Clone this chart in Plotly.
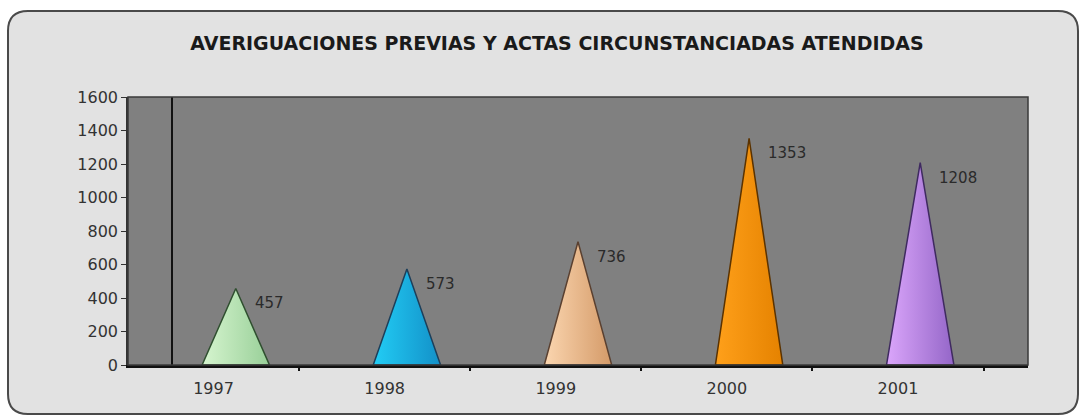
import plotly.graph_objects as go

years = ["1997", "1998", "1999", "2000", "2001"]
values = [457, 573, 736, 1353, 1208]
fill_left = ["#d6f5cf", "#22cdf5", "#fbd6b0", "#ffa01a", "#dba6fb"]
fill_right = ["#98cf98", "#1390c8", "#d49a68", "#e58200", "#9466c8"]
edge_colors = ["#2f4f2f", "#1d3f5a", "#5a4030", "#5a3200", "#3f2a60"]
title_text = "AVERIGUACIONES PREVIAS Y ACTAS CIRCUNSTANCIADAS ATENDIDAS"

W, H = 1083, 419
L, R, T, B = 128, 1028, 97, 365
off, hw = 0.13, 0.197

FAM = "DejaVu Sans, Verdana, Arial"

fig = go.Figure()
for i, (yr, v) in enumerate(zip(years, values)):
    c = i + off
    fig.add_trace(go.Scatter(
        x=[c - hw, c, c + hw, c - hw], y=[0, v, 0, 0],
        mode="lines", fill="toself",
        fillgradient=dict(type="horizontal",
                          colorscale=[[0, fill_left[i]], [1, fill_right[i]]]),
        line=dict(color=edge_colors[i], width=1.5),
        hoverinfo="skip", showlegend=False))
    fig.add_annotation(x=c, y=v, xref="x", yref="y", text=str(v),
                       showarrow=False, xanchor="left", yanchor="middle",
                       xshift=17, yshift=-15,
                       font=dict(family=FAM, size=15, color="#2a2a2a"))

# overlay axis carrying divider tick marks
fig.add_trace(go.Scatter(x=[0], y=[0], xaxis="x2", mode="markers",
                         marker=dict(opacity=0), hoverinfo="skip", showlegend=False))

def px2paper_x(px):
    return (px - L) / (R - L)

def px2paper_y(py):
    return (B - py) / (B - T)

x0, x1, y0, y1 = 8, 1078, 11, 414
r = 20
def P(px, py):
    return f"{px2paper_x(px):.5f},{px2paper_y(py):.5f}"
path = (f"M {P(x0 + r, y0)} L {P(x1 - r, y0)} Q {P(x1, y0)} {P(x1, y0 + r)} "
        f"L {P(x1, y1 - r)} Q {P(x1, y1)} {P(x1 - r, y1)} "
        f"L {P(x0 + r, y1)} Q {P(x0, y1)} {P(x0, y1 - r)} "
        f"L {P(x0, y0 + r)} Q {P(x0, y0)} {P(x0 + r, y0)} Z")

shapes = [
    dict(type="path", path=path, xref="paper", yref="paper",
         fillcolor="#e2e2e2", line=dict(color="#4a4a4a", width=2), layer="below"),
    dict(type="rect", xref="paper", yref="paper", x0=0, x1=1, y0=0, y1=1,
         fillcolor="#808080", line=dict(width=0), layer="below"),
    dict(type="line", xref="paper", yref="paper",
         x0=px2paper_x(172), x1=px2paper_x(172), y0=0, y1=1,
         line=dict(color="#111", width=2), layer="below"),
    dict(type="rect", xref="paper", yref="paper", x0=0, x1=1, y0=0, y1=1,
         line=dict(color="#3a3a3a", width=1.5), layer="above"),
]

font = dict(family=FAM, size=16, color="#333")
xr = [-0.5, 4.76]
fig.update_layout(
    width=W, height=H,
    margin=dict(l=L, r=W - R, t=T, b=H - B),
    paper_bgcolor="white", plot_bgcolor="#808080",
    shapes=shapes,
    title=dict(text=f"<b>{title_text}</b>", x=557 / W, y=1 - 43 / H,
               xanchor="center", yanchor="middle",
               font=dict(family=FAM, size=19, color="#1a1a1a")),
    xaxis=dict(range=xr, tickvals=list(range(len(years))), ticktext=years,
               ticks="", showgrid=False, zeroline=False,
               showline=True, linecolor="#111", linewidth=3,
               tickfont=font, ticklabelstandoff=7, fixedrange=True),
    xaxis2=dict(range=xr, overlaying="x", side="bottom",
                tickvals=[i + 0.5 for i in range(len(years))],
                showticklabels=False, ticks="outside", ticklen=5,
                tickcolor="#111", tickwidth=2, showgrid=False, zeroline=False,
                showline=False),
    yaxis=dict(range=[0, 1600], tickvals=list(range(0, 1601, 200)),
               ticks="outside", ticklen=5, tickcolor="#333", tickwidth=1,
               showgrid=False, zeroline=False, showline=True,
               linecolor="#333", linewidth=1.5, tickfont=font),
)

fig.write_html("out.html")
